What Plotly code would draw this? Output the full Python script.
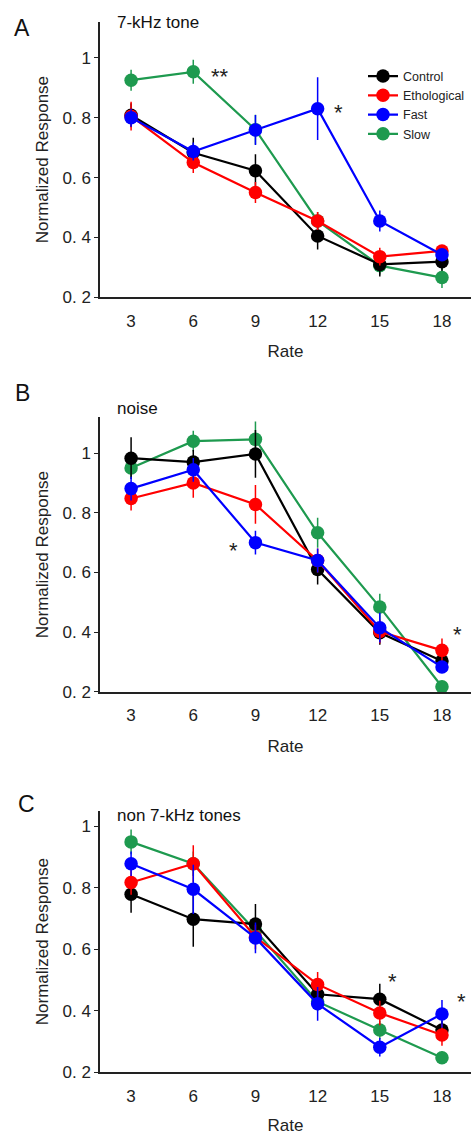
import plotly.graph_objects as go

FONT = "Liberation Sans, Arial, sans-serif"
W, H = 471, 1135

rates = [3, 6, 9, 12, 15, 18]
groups = ["Control", "Ethological", "Fast", "Slow"]
colors = {"Control": "#000000", "Ethological": "#FF0000", "Fast": "#0000FF", "Slow": "#1E9A4F"}
draw_order = ["Slow", "Control", "Ethological", "Fast"]

# Panel A: 7-kHz tone
a_mean = {
    "Control":     [0.808, 0.683, 0.623, 0.405, 0.310, 0.319],
    "Ethological": [0.805, 0.650, 0.550, 0.455, 0.336, 0.355],
    "Fast":        [0.800, 0.687, 0.759, 0.830, 0.455, 0.342],
    "Slow":        [0.925, 0.953, 0.760, 0.455, 0.306, 0.266],
}
a_err = {
    "Control":     [0.040, 0.050, 0.055, 0.045, 0.040, 0.030],
    "Ethological": [0.048, 0.035, 0.035, 0.030, 0.030, 0.020],
    "Fast":        [0.030, 0.030, 0.050, 0.105, 0.035, 0.020],
    "Slow":        [0.035, 0.040, 0.050, 0.030, 0.030, 0.035],
}
# Panel B: noise
b_mean = {
    "Control":     [0.983, 0.970, 0.997, 0.610, 0.398, 0.303],
    "Ethological": [0.848, 0.900, 0.828, 0.640, 0.402, 0.339],
    "Fast":        [0.881, 0.944, 0.700, 0.640, 0.415, 0.283],
    "Slow":        [0.950, 1.040, 1.046, 0.733, 0.484, 0.217],
}
b_err = {
    "Control":     [0.070, 0.040, 0.080, 0.050, 0.040, 0.030],
    "Ethological": [0.040, 0.050, 0.065, 0.040, 0.040, 0.040],
    "Fast":        [0.040, 0.040, 0.040, 0.040, 0.050, 0.020],
    "Slow":        [0.030, 0.035, 0.060, 0.050, 0.045, 0.020],
}
# Panel C: non 7-kHz tones
c_mean = {
    "Control":     [0.779, 0.698, 0.682, 0.454, 0.438, 0.338],
    "Ethological": [0.817, 0.878, 0.640, 0.486, 0.393, 0.322],
    "Fast":        [0.878, 0.795, 0.637, 0.423, 0.282, 0.390],
    "Slow":        [0.949, 0.878, 0.660, 0.430, 0.338, 0.248],
}
c_err = {
    "Control":     [0.060, 0.090, 0.065, 0.040, 0.050, 0.030],
    "Ethological": [0.040, 0.060, 0.040, 0.040, 0.040, 0.035],
    "Fast":        [0.040, 0.080, 0.050, 0.055, 0.030, 0.045],
    "Slow":        [0.040, 0.040, 0.040, 0.030, 0.030, 0.020],
}

panel_letters = ["A", "B", "C"]
panel_titles = ["7-kHz tone", "noise", "non 7-kHz tones"]
y_ticks = [0.2, 0.4, 0.6, 0.8, 1.0]
y_ticktext = ["0. 2", "0. 4", "0. 6", "0. 8", "1"]

# significance marks: (panel, x, y, text)
stars = [
    (0, 7.29, 0.954, "**"),
    (0, 13.03, 0.835, "*"),
    (1, 7.92, 0.689, "*"),
    (1, 18.73, 0.408, "*"),
    (2, 15.59, 0.512, "*"),
    (2, 18.92, 0.448, "*"),
]

# layout geometry in pixels (top, bottom) of each plot area
panel_px = [(22, 300), (421, 698), (818, 1082)]
y_ranges = [[0.2, 1.12], [0.2, 1.12], [0.2, 1.05]]
x_left_px = 100

means = [a_mean, b_mean, c_mean]
errs = [a_err, b_err, c_err]

fig = go.Figure()
for p in range(3):
    xa = "x" if p == 0 else f"x{p+1}"
    ya = "y" if p == 0 else f"y{p+1}"
    for g in draw_order:
        fig.add_trace(go.Scatter(
            x=rates, y=means[p][g], xaxis=xa, yaxis=ya,
            mode="lines+markers", name=g, legendgroup=g,
            showlegend=(p == 0), legendrank=groups.index(g) + 1,
            line=dict(color=colors[g], width=2.2),
            marker=dict(color=colors[g], size=13.5, line=dict(width=0)),
            error_y=dict(type="data", array=errs[p][g], symmetric=True,
                         color=colors[g], thickness=1.5, width=0),
            cliponaxis=False,
        ))

layout = dict(
    width=W, height=H,
    margin=dict(l=0, r=0, t=0, b=0),
    paper_bgcolor="white", plot_bgcolor="white",
    font=dict(family=FONT, color="#222222", size=17),
    legend=dict(x=363 / W, y=1 - 62 / H, xanchor="left", yanchor="top",
                font=dict(size=12.5, family=FONT, color="#222222"),
                bgcolor="rgba(0,0,0,0)", tracegroupgap=0, itemwidth=30),
    annotations=[],
)
for p in range(3):
    top, bot = panel_px[p]
    xk = "xaxis" if p == 0 else f"xaxis{p+1}"
    yk = "yaxis" if p == 0 else f"yaxis{p+1}"
    ya = "y" if p == 0 else f"y{p+1}"
    layout[xk] = dict(
        domain=[x_left_px / W, 1], anchor=ya, range=[1.5, 19.4],
        tickvals=rates, ticks="outside", ticklen=7, tickcolor="rgba(0,0,0,0)",
        showline=True, linecolor="#222222", linewidth=1.5, showgrid=False, zeroline=False,
        tickfont=dict(size=17, family=FONT, color="#222222"),
        title=dict(text="Rate", font=dict(size=17, family=FONT, color="#222222"), standoff=16),
    )
    layout[yk] = dict(
        domain=[1 - bot / H, 1 - top / H], anchor="x" if p == 0 else f"x{p+1}",
        range=y_ranges[p], tickvals=y_ticks, ticktext=y_ticktext,
        ticks="outside", ticklen=4, tickwidth=1.2, tickcolor="#222222",
        showline=True, linecolor="#222222", linewidth=1.5, showgrid=False, zeroline=False,
        tickfont=dict(size=17, family=FONT, color="#222222"),
        title=dict(text="Normalized Response", font=dict(size=17, family=FONT, color="#222222"), standoff=10),
    )

letter_pos = [(12, 28), (13, 396), (16, 811)]
title_pos = [(115, 23), (115, 412), (115, 823)]
for p in range(3):
    lx, ly = letter_pos[p]
    layout["annotations"].append(dict(
        text=panel_letters[p], x=lx / W, y=1 - ly / H, xref="paper", yref="paper",
        xanchor="left", yanchor="middle", showarrow=False,
        font=dict(size=23, family=FONT, color="#111111")))
    tx, ty = title_pos[p]
    layout["annotations"].append(dict(
        text=panel_titles[p], x=tx / W, y=1 - ty / H, xref="paper", yref="paper",
        xanchor="left", yanchor="middle", showarrow=False,
        font=dict(size=17, family=FONT, color="#111111")))

for p, sx, sy, st in stars:
    layout["annotations"].append(dict(
        text=st, x=sx, y=sy, xref="x" if p == 0 else f"x{p+1}",
        yref="y" if p == 0 else f"y{p+1}", xanchor="center", yanchor="middle",
        yshift=-5, showarrow=False, font=dict(size=22, family=FONT, color="#222222")))

fig.update_layout(**layout)
fig.write_html("out.html", config={"displayModeBar": False},
               post_script="document.body.style.margin='0';document.body.style.overflow='hidden';")
